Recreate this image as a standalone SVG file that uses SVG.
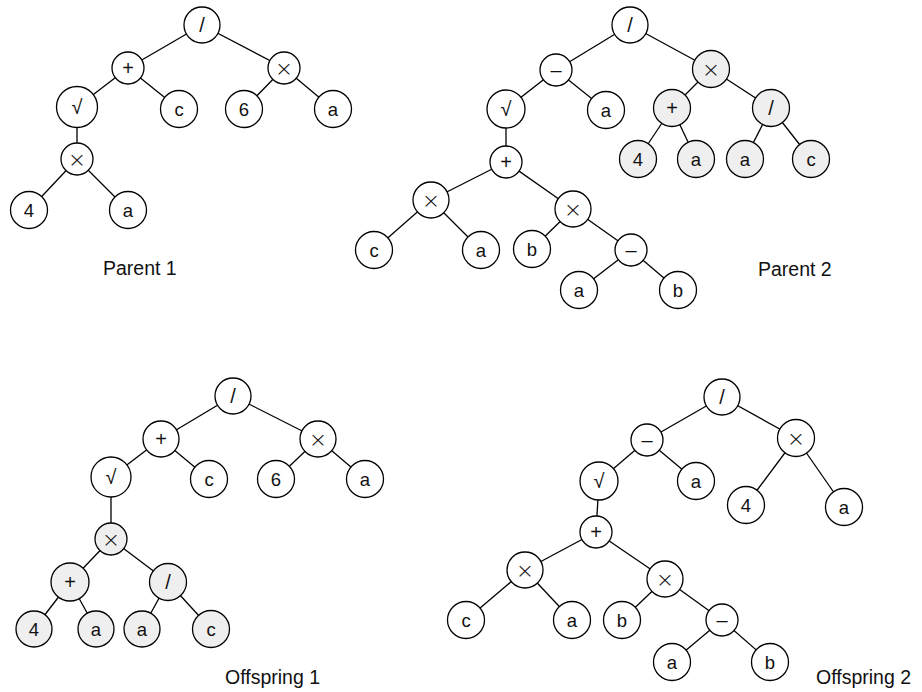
<svg xmlns="http://www.w3.org/2000/svg" width="922" height="692" viewBox="0 0 922 692">
<style>
.e line{stroke:#000;stroke-width:1.3}
circle{fill:#fff;stroke:#000;stroke-width:1.3}
.g circle{fill:#efefef}
text{font-family:"Liberation Sans",Arial,sans-serif;font-size:18.5px;text-anchor:middle;fill:#111}
.op{font-size:20px}
.x{font-size:22px;font-weight:200;font-family:"DejaVu Sans","Liberation Sans",sans-serif}
.lbl{font-size:19.5px;text-anchor:start}
</style>
<rect width="922" height="692" fill="#fff"/>
<g id="connectors" class="e">
<!-- Parent 1 -->
<line x1="202" y1="25" x2="128" y2="68"/><line x1="202" y1="25" x2="284" y2="68"/>
<line x1="128" y1="68" x2="77" y2="107"/><line x1="128" y1="68" x2="179" y2="109"/>
<line x1="284" y1="68" x2="244" y2="109"/><line x1="284" y1="68" x2="333" y2="109"/>
<line x1="77" y1="107" x2="77" y2="159"/>
<line x1="77" y1="159" x2="29" y2="210"/><line x1="77" y1="159" x2="128" y2="210"/>
<!-- Parent 2 -->
<line x1="630" y1="25" x2="556" y2="70"/><line x1="630" y1="25" x2="711" y2="69"/>
<line x1="556" y1="70" x2="506" y2="109"/><line x1="556" y1="70" x2="606" y2="110"/>
<line x1="711" y1="69" x2="672" y2="108"/><line x1="711" y1="69" x2="771" y2="108"/>
<line x1="672" y1="108" x2="638" y2="159"/><line x1="672" y1="108" x2="696" y2="159"/>
<line x1="771" y1="108" x2="745" y2="159"/><line x1="771" y1="108" x2="811" y2="159"/>
<line x1="506" y1="109" x2="506" y2="162"/>
<line x1="506" y1="162" x2="431" y2="200"/><line x1="506" y1="162" x2="573" y2="209"/>
<line x1="431" y1="200" x2="374" y2="250"/><line x1="431" y1="200" x2="481" y2="250"/>
<line x1="573" y1="209" x2="532" y2="249"/><line x1="573" y1="209" x2="631" y2="250"/>
<line x1="631" y1="250" x2="579" y2="290"/><line x1="631" y1="250" x2="678" y2="290"/>
<!-- Offspring 1 -->
<line x1="233" y1="396" x2="161" y2="439"/><line x1="233" y1="396" x2="318" y2="439"/>
<line x1="161" y1="439" x2="111" y2="477"/><line x1="161" y1="439" x2="209" y2="479"/>
<line x1="318" y1="439" x2="276" y2="479"/><line x1="318" y1="439" x2="365" y2="479"/>
<line x1="111" y1="477" x2="111" y2="539"/>
<line x1="111" y1="539" x2="70" y2="582"/><line x1="111" y1="539" x2="168" y2="582"/>
<line x1="70" y1="582" x2="34" y2="629"/><line x1="70" y1="582" x2="96" y2="629"/>
<line x1="168" y1="582" x2="142" y2="629"/><line x1="168" y1="582" x2="211" y2="629"/>
<!-- Offspring 2 -->
<line x1="722" y1="397" x2="647" y2="440"/><line x1="722" y1="397" x2="796" y2="438"/>
<line x1="647" y1="440" x2="599" y2="481"/><line x1="647" y1="440" x2="696" y2="481"/>
<line x1="796" y1="438" x2="746" y2="505"/><line x1="796" y1="438" x2="844" y2="507"/>
<line x1="599" y1="481" x2="596" y2="532"/>
<line x1="596" y1="532" x2="525" y2="570"/><line x1="596" y1="532" x2="665" y2="579"/>
<line x1="525" y1="570" x2="466" y2="620"/><line x1="525" y1="570" x2="572" y2="620"/>
<line x1="665" y1="579" x2="622" y2="620"/><line x1="665" y1="579" x2="722" y2="620"/>
<line x1="722" y1="620" x2="672" y2="662"/><line x1="722" y1="620" x2="770" y2="662"/>
</g>

<!-- Parent 1 nodes -->
<g id="p1_div"><circle cx="202" cy="25" r="18"/><text class="op" x="202" y="32">/</text></g>
<g id="p1_plus"><circle cx="128" cy="68" r="16"/><text class="op" x="128" y="75">+</text></g>
<g id="p1_times"><circle cx="284" cy="68" r="16"/><text class="x" x="284" y="75.5">×</text></g>
<g id="p1_sqrt"><circle cx="77" cy="107" r="20.5"/><text class="op" x="77" y="114">√</text></g>
<g id="p1_c"><circle cx="179" cy="109" r="18.5"/><text x="179" y="115.5">c</text></g>
<g id="p1_6"><circle cx="244" cy="109" r="18.5"/><text x="244" y="115.5">6</text></g>
<g id="p1_a"><circle cx="333" cy="109" r="18.5"/><text x="333" y="115.5">a</text></g>
<g id="p1_times2"><circle cx="77" cy="159" r="16"/><text class="x" x="77" y="166.5">×</text></g>
<g id="p1_4"><circle cx="29" cy="210" r="18.5"/><text x="29" y="216.5">4</text></g>
<g id="p1_a2"><circle cx="128" cy="210" r="18.5"/><text x="128" y="216.5">a</text></g>

<!-- Parent 2 nodes -->
<g id="p2_div"><circle cx="630" cy="25" r="18"/><text class="op" x="630" y="32">/</text></g>
<g id="p2_minus"><circle cx="556" cy="70" r="16"/><text class="op" x="556" y="77">–</text></g>
<g id="p2_times" class="g"><circle cx="711" cy="69" r="18.5"/><text class="x" x="711" y="76.5">×</text></g>
<g id="p2_sqrt"><circle cx="506" cy="109" r="19"/><text class="op" x="506" y="116">√</text></g>
<g id="p2_a"><circle cx="606" cy="110" r="18.5"/><text x="606" y="116.5">a</text></g>
<g id="p2_plusg" class="g"><circle cx="672" cy="108" r="18.5"/><text class="op" x="672" y="115">+</text></g>
<g id="p2_divg" class="g"><circle cx="771" cy="108" r="18.5"/><text class="op" x="771" y="115">/</text></g>
<g id="p2_4g" class="g"><circle cx="638" cy="159" r="18.5"/><text x="638" y="165.5">4</text></g>
<g id="p2_ag" class="g"><circle cx="696" cy="159" r="18.5"/><text x="696" y="165.5">a</text></g>
<g id="p2_ag2" class="g"><circle cx="745" cy="159" r="18.5"/><text x="745" y="165.5">a</text></g>
<g id="p2_cg" class="g"><circle cx="811" cy="159" r="18.5"/><text x="811" y="165.5">c</text></g>
<g id="p2_plus"><circle cx="506" cy="162" r="16"/><text class="op" x="506" y="169">+</text></g>
<g id="p2_timesL"><circle cx="431" cy="200" r="18"/><text class="x" x="431" y="207.5">×</text></g>
<g id="p2_timesR"><circle cx="573" cy="209" r="18"/><text class="x" x="573" y="216.5">×</text></g>
<g id="p2_c"><circle cx="374" cy="250" r="18.5"/><text x="374" y="256.5">c</text></g>
<g id="p2_a3"><circle cx="481" cy="250" r="18.5"/><text x="481" y="256.5">a</text></g>
<g id="p2_b"><circle cx="532" cy="249" r="18.5"/><text x="532" y="255.5">b</text></g>
<g id="p2_minus2"><circle cx="631" cy="250" r="16"/><text class="op" x="631" y="257">–</text></g>
<g id="p2_a4"><circle cx="579" cy="290" r="18.5"/><text x="579" y="296.5">a</text></g>
<g id="p2_b2"><circle cx="678" cy="290" r="18.5"/><text x="678" y="296.5">b</text></g>

<!-- Offspring 1 nodes -->
<g id="o1_div"><circle cx="233" cy="396" r="18"/><text class="op" x="233" y="403">/</text></g>
<g id="o1_plus"><circle cx="161" cy="439" r="18"/><text class="op" x="161" y="446">+</text></g>
<g id="o1_times"><circle cx="318" cy="439" r="18"/><text class="x" x="318" y="446.5">×</text></g>
<g id="o1_sqrt"><circle cx="111" cy="477" r="20"/><text class="op" x="111" y="484">√</text></g>
<g id="o1_c"><circle cx="209" cy="479" r="18.5"/><text x="209" y="485.5">c</text></g>
<g id="o1_6"><circle cx="276" cy="479" r="18.5"/><text x="276" y="485.5">6</text></g>
<g id="o1_a"><circle cx="365" cy="479" r="18.5"/><text x="365" y="485.5">a</text></g>
<g id="o1_timesg" class="g"><circle cx="111" cy="539" r="16"/><text class="x" x="111" y="546.5">×</text></g>
<g id="o1_plusg" class="g"><circle cx="70" cy="582" r="19"/><text class="op" x="70" y="589">+</text></g>
<g id="o1_divg" class="g"><circle cx="168" cy="582" r="18.5"/><text class="op" x="168" y="589">/</text></g>
<g id="o1_4g" class="g"><circle cx="34" cy="629" r="18"/><text x="34" y="635.5">4</text></g>
<g id="o1_ag" class="g"><circle cx="96" cy="629" r="18"/><text x="96" y="635.5">a</text></g>
<g id="o1_ag2" class="g"><circle cx="142" cy="629" r="18"/><text x="142" y="635.5">a</text></g>
<g id="o1_cg" class="g"><circle cx="211" cy="629" r="18.5"/><text x="211" y="635.5">c</text></g>

<!-- Offspring 2 nodes -->
<g id="o2_div"><circle cx="722" cy="397" r="18"/><text class="op" x="722" y="404">/</text></g>
<g id="o2_minus"><circle cx="647" cy="440" r="16"/><text class="op" x="647" y="447">–</text></g>
<g id="o2_times"><circle cx="796" cy="438" r="18.5"/><text class="x" x="796" y="445.5">×</text></g>
<g id="o2_sqrt"><circle cx="599" cy="481" r="19"/><text class="op" x="599" y="488">√</text></g>
<g id="o2_a"><circle cx="696" cy="481" r="18.5"/><text x="696" y="487.5">a</text></g>
<g id="o2_4"><circle cx="746" cy="505" r="18.5"/><text x="746" y="511.5">4</text></g>
<g id="o2_a2"><circle cx="844" cy="507" r="18.5"/><text x="844" y="513.5">a</text></g>
<g id="o2_plus"><circle cx="596" cy="532" r="16"/><text class="op" x="596" y="539">+</text></g>
<g id="o2_timesL"><circle cx="525" cy="570" r="18"/><text class="x" x="525" y="577.5">×</text></g>
<g id="o2_timesR"><circle cx="665" cy="579" r="18"/><text class="x" x="665" y="586.5">×</text></g>
<g id="o2_c"><circle cx="466" cy="620" r="18.5"/><text x="466" y="626.5">c</text></g>
<g id="o2_a3"><circle cx="572" cy="620" r="18.5"/><text x="572" y="626.5">a</text></g>
<g id="o2_b"><circle cx="622" cy="620" r="18.5"/><text x="622" y="626.5">b</text></g>
<g id="o2_minus2"><circle cx="722" cy="620" r="16"/><text class="op" x="722" y="627">–</text></g>
<g id="o2_a4"><circle cx="672" cy="662" r="18.5"/><text x="672" y="668.5">a</text></g>
<g id="o2_b2"><circle cx="770" cy="662" r="18.5"/><text x="770" y="668.5">b</text></g>

<g id="labels">
<text class="lbl" x="103" y="275">Parent 1</text>
<text class="lbl" x="758" y="276">Parent 2</text>
<text class="lbl" x="225" y="684">Offspring 1</text>
<text class="lbl" x="816" y="684">Offspring 2</text>
</g>
</svg>
